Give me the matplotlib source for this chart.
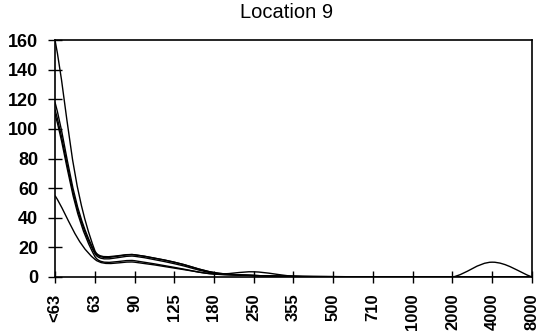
import math
import matplotlib
matplotlib.use("Agg")
import matplotlib.pyplot as plt
from matplotlib.path import Path
from matplotlib.patches import PathPatch

plt.rcParams["font.family"] = ["Liberation Sans", "DejaVu Sans"]

# sieve sizes (micrometre classes)
sizes = ["<63", "63", "90", "125", "180", "250", "355", "500", "710",
         "1000", "2000", "4000", "8000"]

# counts per size class, one list per sample
sample_1 = [160, 18, 15, 10, 3, 1, 0.5, 0.3, 0, 0, 0, 0, 0]
sample_2 = [118, 17, 15, 10, 3, 1, 0.5, 0.2, 0, 0, 0, 0, 0]
sample_3 = [113, 16, 14, 9, 2.5, 1, 0.3, 0.2, 0, 0, 0, 0, 0]
sample_4 = [110, 14, 11, 6.5, 2, 3.5, 0.5, 0, 0, 0, 0, 10, 0]
sample_5 = [55, 12, 10, 6, 2, 1, 0.3, 0, 0, 0, 0, 0, 0]

samples = [sample_1, sample_2, sample_3, sample_4, sample_5]

# pixel size of one category step and of one y unit, used so the
# smoothing works in screen proportions
SX, SY = 39.75, 1.48


def smooth_path(xs, ys):
    # smoothed line: bezier segments through every point, handle length
    # set by the segment's own length so short segments don't overshoot
    px = [x * SX for x in xs]
    py = [y * SY for y in ys]
    n = len(px)

    def tangent(i):
        a, b = max(i - 1, 0), min(i + 1, n - 1)
        dx, dy = px[b] - px[a], py[b] - py[a]
        d = math.hypot(dx, dy) or 1.0
        return dx / d, dy / d

    verts = [(xs[0], ys[0])]
    codes = [Path.MOVETO]
    for i in range(n - 1):
        seg = math.hypot(px[i + 1] - px[i], py[i + 1] - py[i]) / 3
        t1, t2 = tangent(i), tangent(i + 1)
        c1 = (px[i] + t1[0] * seg, py[i] + t1[1] * seg)
        c2 = (px[i + 1] - t2[0] * seg, py[i + 1] - t2[1] * seg)
        verts += [(c1[0] / SX, c1[1] / SY), (c2[0] / SX, c2[1] / SY),
                  (xs[i + 1], ys[i + 1])]
        codes += [Path.CURVE4] * 3
    return Path(verts, codes)


fig = plt.figure(figsize=(5.42, 3.34), dpi=100)
ax = fig.add_axes([0.1015, 0.1707, 0.88, 0.7093])

xs = list(range(len(sizes)))
for s in samples:
    ax.add_patch(PathPatch(smooth_path(xs, s), facecolor="none",
                           edgecolor="black", lw=1.0))

ax.set_xlim(0, len(sizes) - 1)
ax.set_ylim(0, 160)
ax.set_yticks(range(0, 161, 20))
ax.set_xticks(xs)
ax.set_xticklabels(sizes, rotation=90, fontsize=12, fontweight="bold")
for lab in ax.get_yticklabels():
    lab.set_fontsize(13)
    lab.set_fontweight("bold")

ax.tick_params(axis="y", direction="inout", length=10, width=1, pad=7)
ax.tick_params(axis="x", direction="inout", length=8, width=1, pad=8)
for sp in ax.spines.values():
    sp.set_linewidth(1.2)
    sp.set_color("black")

ax.set_title("Location 9", fontsize=14.5, pad=16, x=0.485)

fig.savefig("out.png", dpi=100)
